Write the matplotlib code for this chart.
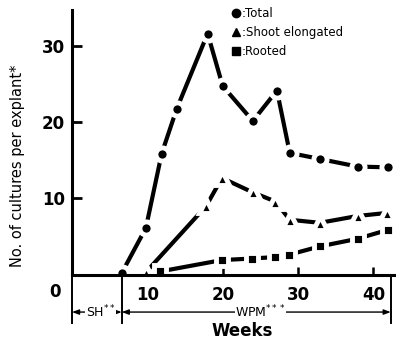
import matplotlib
matplotlib.use("Agg")
import matplotlib.pyplot as plt
from matplotlib.lines import Line2D

# weeks / number of cultures per explant
total_weeks = [6.6, 9.8, 11.9, 13.9, 18.0, 20.0, 24.0, 27.2, 28.9, 32.9, 37.9, 42.0]
total_vals = [0.2, 6.1, 15.9, 21.8, 31.7, 24.8, 20.2, 24.2, 16.0, 15.2, 14.2, 14.1]

shoot_weeks = [9.8, 17.8, 19.9, 24.0, 27.0, 28.9, 32.9, 37.9, 41.8]
shoot_vals = [0.3, 9.0, 12.7, 10.8, 9.6, 7.2, 6.8, 7.7, 8.1]

rooted_weeks = [11.7, 19.9, 23.9, 27.0, 28.8, 32.9, 37.9, 42.0]
rooted_vals = [0.4, 1.9, 2.1, 2.3, 2.6, 3.7, 4.7, 5.9]

xticks = [10, 20, 30, 40]
yticks = [10, 20, 30]

sh_end = 6.6
wpm_end = 42.3

fig = plt.figure(figsize=(3.96, 3.41), dpi=100)
ax = fig.add_axes([72 / 396, 66.5 / 341, 324 / 396, 264.5 / 341])

series = [
    (total_weeks, total_vals, "o", 9.5),
    (shoot_weeks, shoot_vals, "^", 10),
    (rooted_weeks, rooted_vals, "s", 8.5),
]
for xs, ys, m, ms in series:
    ax.plot(xs, ys, "-", color="black", lw=3, solid_capstyle="butt", zorder=1)
    ax.plot(xs, ys, ls="none", marker=m, ms=ms, mfc="black", mec="white",
            mew=3.5, zorder=2)

ax.set_xlim(0, 43)
ax.set_ylim(0, 34.8)
for s in ["top", "right"]:
    ax.spines[s].set_visible(False)
for s in ["left", "bottom"]:
    ax.spines[s].set_linewidth(2.2)
    ax.spines[s].set_zorder(3)

ax.set_xticks(xticks)
ax.set_yticks(yticks)
ax.tick_params(axis="x", direction="in", length=5.5, width=1.8, pad=8,
               labelsize=12)
ax.tick_params(axis="y", direction="in", length=7.5, width=2, pad=5,
               labelsize=12)
for lab in ax.get_xticklabels() + ax.get_yticklabels():
    lab.set_fontweight("bold")

xt = ax.get_xaxis_transform()
ax.text(-2.2, -0.066, "0", transform=xt, ha="center", va="center",
        fontsize=12, fontweight="bold")

# period bars and arrows below the axis
for xb in [0, sh_end, wpm_end]:
    ax.plot([xb, xb], [-0.015, -0.185], transform=xt, clip_on=False,
            color="black", lw=1.4)
arrow = dict(arrowstyle="<|-|>,head_length=0.4,head_width=0.15", lw=1,
             color="black", shrinkA=0, shrinkB=0)
ax.annotate("", xy=(0, -0.142), xytext=(sh_end, -0.142), xycoords=xt,
            textcoords=xt, arrowprops=arrow)
ax.annotate("", xy=(sh_end, -0.142), xytext=(wpm_end, -0.142), xycoords=xt,
            textcoords=xt, arrowprops=arrow)
ax.text(3.8, -0.142, "SH$^{**}$", transform=xt, ha="center", va="center",
        fontsize=9, bbox=dict(fc="white", ec="none", pad=0.3))
ax.text(25.0, -0.142, "WPM$^{***}$", transform=xt, ha="center", va="center",
        fontsize=9, bbox=dict(fc="white", ec="none", pad=0.3))

ax.set_xlabel("Weeks", fontsize=12, fontweight="bold")
ax.xaxis.set_label_coords(0.525, -0.178)
ax.set_ylabel("No. of cultures per explant*", fontsize=10.5)
ax.yaxis.set_label_coords(-0.145, 0.41)

handles = [Line2D([], [], ls="none", marker=m, color="black", ms=6)
           for m in ["o", "^", "s"]]
ax.legend(handles, [":Total", ":Shoot elongated", ":Rooted"],
          loc="upper left", bbox_to_anchor=(0.495, 1.01), frameon=False,
          fontsize=8.5, handlelength=0.6, handletextpad=0.2, borderpad=0,
          labelspacing=0.5, borderaxespad=0)

fig.savefig("out.png", dpi=100)
